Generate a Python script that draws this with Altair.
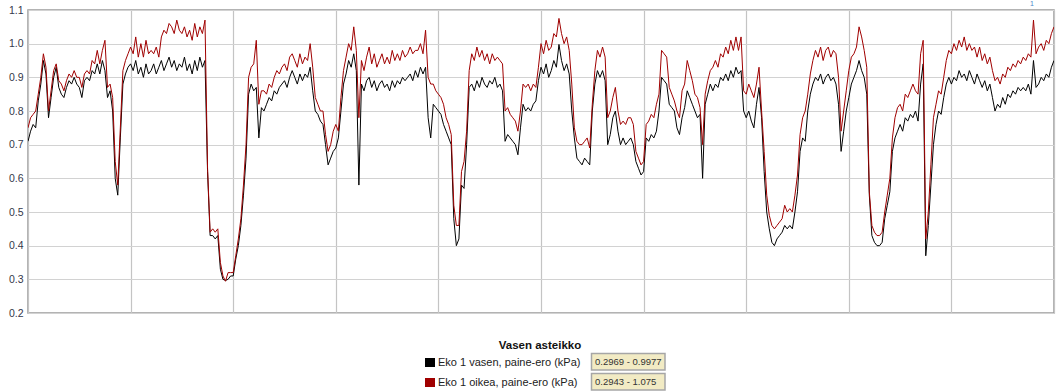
import altair as alt
import pandas as pd

# Pressure difference readings, one sample every 2.5 time units (0 ... 1000)
vasen = [
    0.71, 0.74, 0.76, 0.75, 0.83, 0.88, 0.95, 0.91, 0.78, 0.84, 0.90, 0.93,
    0.87, 0.85, 0.84, 0.87, 0.89, 0.88, 0.90, 0.88, 0.87, 0.84, 0.89, 0.90,
    0.89, 0.92, 0.91, 0.94, 0.91, 0.95, 0.92, 0.84, 0.86, 0.80, 0.60, 0.55,
    0.72, 0.88, 0.91, 0.93, 0.94, 0.92, 0.95, 0.91, 0.93, 0.90, 0.94, 0.91,
    0.92, 0.94, 0.91, 0.93, 0.95, 0.92, 0.94, 0.96, 0.93, 0.95, 0.92, 0.94,
    0.93, 0.96, 0.92, 0.94, 0.91, 0.95, 0.92, 0.96, 0.93, 0.95, 0.62, 0.43,
    0.43, 0.42, 0.43, 0.33, 0.30, 0.2969, 0.30, 0.31, 0.31, 0.36, 0.40, 0.46,
    0.55, 0.66, 0.85, 0.88, 0.86, 0.87, 0.72, 0.81, 0.80, 0.82, 0.84, 0.83,
    0.86, 0.85, 0.87, 0.88, 0.89, 0.87, 0.90, 0.92, 0.90, 0.88, 0.91, 0.89,
    0.91, 0.90, 0.93, 0.86, 0.80, 0.79, 0.77, 0.76, 0.70, 0.64, 0.66, 0.68,
    0.69, 0.72, 0.80, 0.88, 0.91, 0.95, 0.93, 0.97, 0.92, 0.58, 0.88, 0.86,
    0.89, 0.90, 0.87, 0.89, 0.86, 0.88, 0.89, 0.87, 0.88, 0.86, 0.89, 0.87,
    0.89, 0.88, 0.90, 0.89, 0.90, 0.91, 0.89, 0.92, 0.90, 0.93, 0.91, 0.93,
    0.78, 0.72, 0.82, 0.81, 0.80, 0.79, 0.76, 0.74, 0.72, 0.70, 0.48, 0.40,
    0.42, 0.58, 0.57, 0.70, 0.87, 0.88, 0.86, 0.89, 0.87, 0.90, 0.88, 0.87,
    0.89, 0.88, 0.90, 0.87, 0.88, 0.86, 0.71, 0.73, 0.72, 0.71, 0.70, 0.67,
    0.75, 0.82, 0.80, 0.81, 0.80, 0.82, 0.83, 0.89, 0.93, 0.91, 0.94, 0.90,
    0.92, 0.95, 0.93, 0.9977, 0.95, 0.92, 0.94, 0.91, 0.80, 0.72, 0.66, 0.65,
    0.64, 0.66, 0.65, 0.64, 0.80, 0.88, 0.92, 0.90, 0.92, 0.89, 0.70, 0.73,
    0.78, 0.80, 0.74, 0.70, 0.72, 0.70, 0.71, 0.72, 0.70, 0.65, 0.63, 0.61,
    0.62, 0.72, 0.71, 0.73, 0.72, 0.74, 0.80, 0.90, 0.89, 0.88, 0.82, 0.81,
    0.80, 0.75, 0.73, 0.78, 0.81, 0.86, 0.84, 0.82, 0.80, 0.78, 0.79, 0.60,
    0.82, 0.85, 0.88, 0.86, 0.88, 0.87, 0.90, 0.89, 0.91, 0.89, 0.92, 0.90,
    0.93, 0.91, 0.92, 0.80, 0.78, 0.80, 0.77, 0.75, 0.82, 0.87, 0.78, 0.62,
    0.50, 0.45, 0.41, 0.40, 0.42, 0.43, 0.44, 0.46, 0.45, 0.46, 0.45, 0.50,
    0.56, 0.68, 0.72, 0.71, 0.80, 0.85, 0.88, 0.90, 0.89, 0.91, 0.88, 0.90,
    0.91, 0.89, 0.90, 0.88, 0.82, 0.68, 0.74, 0.80, 0.84, 0.88, 0.90, 0.92,
    0.95, 0.92, 0.90, 0.85, 0.55, 0.43, 0.41, 0.40, 0.40, 0.41, 0.48, 0.52,
    0.56, 0.68, 0.72, 0.74, 0.76, 0.74, 0.78, 0.77, 0.79, 0.78, 0.80, 0.77,
    0.88, 0.94, 0.37, 0.46, 0.58, 0.70, 0.76, 0.80, 0.79, 0.84, 0.88, 0.90,
    0.88, 0.90, 0.89, 0.92, 0.90, 0.91, 0.89, 0.92, 0.90, 0.88, 0.91, 0.89,
    0.87, 0.89, 0.86, 0.88, 0.84, 0.80, 0.82, 0.81, 0.84, 0.82, 0.85, 0.84,
    0.86, 0.85, 0.87, 0.86, 0.87, 0.86, 0.88, 0.85, 0.95, 0.87, 0.88, 0.90,
    0.89, 0.91, 0.90, 0.93, 0.95,
]

oikea = [
    0.75, 0.78, 0.79, 0.80, 0.85, 0.90, 0.97, 0.93, 0.80, 0.86, 0.92, 0.94,
    0.89, 0.88, 0.86, 0.89, 0.91, 0.90, 0.92, 0.90, 0.90, 0.87, 0.91, 0.92,
    0.91, 0.95, 0.94, 0.98, 0.94, 0.98, 1.01, 0.87, 0.88, 0.84, 0.65, 0.58,
    0.75, 0.92, 0.95, 0.97, 0.99, 0.97, 1.02, 0.96, 1.00, 0.96, 1.01, 0.97,
    0.98, 0.97, 0.99, 0.96, 1.02, 1.04, 1.03, 1.06, 1.05, 1.03, 1.07, 1.04,
    1.03, 1.05, 1.02, 1.04, 1.01, 1.06, 1.02, 1.05, 1.03, 1.07, 0.63, 0.44,
    0.45, 0.44, 0.45, 0.35, 0.31, 0.2943, 0.32, 0.32, 0.32, 0.37, 0.42, 0.48,
    0.58, 0.70, 0.90, 0.93, 0.94, 1.01, 0.82, 0.86, 0.86, 0.85, 0.88, 0.87,
    0.90, 0.92, 0.91, 0.93, 0.94, 0.92, 0.96, 0.97, 0.95, 0.93, 0.97, 0.94,
    0.96, 0.95, 1.00, 0.93, 0.84, 0.82, 0.80, 0.80, 0.73, 0.68, 0.70, 0.74,
    0.76, 0.74, 0.84, 0.92, 0.96, 1.00, 0.98, 1.05, 0.98, 0.78, 0.95, 0.92,
    0.96, 0.99, 0.94, 0.97, 0.93, 0.95, 0.97, 0.94, 0.96, 0.94, 0.98, 0.95,
    0.97, 0.95, 0.98, 0.96, 0.97, 0.99, 0.97, 0.98, 0.98, 1.00, 0.97, 1.04,
    0.90, 0.88, 0.88, 0.86, 0.85, 0.84, 0.82, 0.78, 0.76, 0.73, 0.52, 0.46,
    0.46, 0.62, 0.65, 0.74, 0.92, 0.97, 0.95, 0.99, 0.96, 0.98, 0.95, 0.97,
    0.94, 0.97, 0.95, 0.96, 0.95, 0.94, 0.80, 0.81, 0.79, 0.78, 0.77, 0.74,
    0.80, 0.88, 0.87, 0.88, 0.86, 0.88, 0.87, 0.93, 1.00, 0.97, 1.01, 0.98,
    0.99, 1.03, 1.02, 1.075, 1.03, 1.00, 1.02, 0.98, 0.88, 0.75, 0.71, 0.70,
    0.70, 0.71, 0.72, 0.69, 0.82, 0.92, 0.98, 0.96, 0.99, 0.96, 0.78, 0.80,
    0.84, 0.87, 0.80, 0.76, 0.77, 0.76, 0.78, 0.78, 0.76, 0.68, 0.66, 0.64,
    0.65, 0.76, 0.77, 0.79, 0.78, 0.82, 0.85, 0.98, 0.97, 0.96, 0.87, 0.85,
    0.83, 0.80, 0.78, 0.86, 0.88, 0.95, 0.92, 0.89, 0.85, 0.84, 0.81, 0.70,
    0.85, 0.89, 0.92, 0.93, 0.95, 0.93, 0.97, 0.96, 0.99, 0.97, 1.01, 0.98,
    1.02, 0.98, 1.02, 0.86, 0.85, 0.88, 0.86, 0.84, 0.88, 0.93, 0.80, 0.68,
    0.55, 0.49, 0.46, 0.45, 0.46, 0.47, 0.48, 0.52, 0.50, 0.51, 0.50, 0.55,
    0.61, 0.73, 0.78, 0.80, 0.85, 0.91, 0.95, 0.98, 0.96, 0.99, 0.95, 0.98,
    0.99, 0.96, 0.98, 0.97, 0.90, 0.74, 0.80, 0.86, 0.92, 0.96, 0.97, 0.99,
    1.05, 1.02, 0.98, 0.93, 0.56, 0.46, 0.44, 0.43, 0.43, 0.44, 0.50, 0.55,
    0.60, 0.72, 0.78, 0.81, 0.82, 0.80, 0.85, 0.84, 0.86, 0.88, 0.86, 0.85,
    0.97, 1.01, 0.42, 0.50, 0.64, 0.78, 0.82, 0.86, 0.85, 0.90, 0.95, 0.98,
    0.97, 1.00, 0.98, 1.01, 0.99, 1.02, 0.98, 1.00, 0.98, 0.99, 0.96, 0.99,
    0.95, 0.97, 0.94, 0.96, 0.92, 0.89, 0.90, 0.88, 0.91, 0.90, 0.93, 0.92,
    0.94, 0.93, 0.95, 0.94, 0.96, 0.95, 0.97, 0.96, 1.07, 0.97, 0.99, 1.00,
    0.98, 1.01, 1.00, 1.03, 1.05,
]

STEP = 2.5
series_names = ["Eko 1 vasen, paine-ero (kPa)", "Eko 1 oikea, paine-ero (kPa)"]
series_values = [vasen, oikea]
series_colors = ["#000000", "#a00000"]
legend_title = "Vasen asteikko"
y_ticks = [0.2, 0.3, 0.4, 0.5, 0.6, 0.7, 0.8, 0.9, 1.0, 1.1]
x_grid = [0, 100, 200, 300, 400, 500, 600, 700, 800, 900, 1000]

FONT = "Liberation Sans"

x_enc = alt.X(
    "t:Q",
    scale=alt.Scale(domain=[0, 1000], nice=False, zero=False),
    axis=alt.Axis(values=x_grid, labels=False, ticks=False, title=None,
                  domain=False, grid=True, gridColor="#c4c4c4", gridWidth=1.2),
)
y_enc = alt.Y(
    "arvo:Q",
    scale=alt.Scale(domain=[0.2, 1.1], nice=False, zero=False),
    axis=alt.Axis(values=y_ticks, format=".1f", title=None, ticks=False,
                  domain=False, labelPadding=5, labelFontSize=10.5,
                  labelFont=FONT, labelColor="#34384a",
                  grid=True, gridColor="#d2d2d2", gridWidth=1.2),
)

layers = []
for name, vals, color in zip(series_names, series_values, series_colors):
    frame = pd.DataFrame({"t": [i * STEP for i in range(len(vals))], "arvo": vals})
    layers.append(
        alt.Chart(frame).mark_line(color=color, strokeWidth=1, clip=True)
        .encode(x=x_enc, y=y_enc)
    )

# Legend below the plot: title, colour swatch, series name and value range box
title_df = pd.DataFrame({"txt": [legend_title]})
layers.append(
    alt.Chart(title_df).mark_text(font=FONT, fontSize=11.5, fontWeight="bold",
                                  color="#111111", align="center", baseline="middle")
    .encode(x=alt.value(512), y=alt.value(336), text="txt:N")
)

for i, (name, vals, color) in enumerate(zip(series_names, series_values, series_colors)):
    dy = i * 20
    rng = f"{min(vals):.4g} - {max(vals):.4g}"
    row = pd.DataFrame({"name": [name], "rng": [rng]})
    base = alt.Chart(row)
    layers.append(
        base.mark_rect(color=color)
        .encode(x=alt.value(397), x2=alt.value(407),
                y=alt.value(348 + dy), y2=alt.value(357 + dy))
    )
    layers.append(
        base.mark_text(font=FONT, fontSize=11, color="#222222",
                       align="left", baseline="middle")
        .encode(x=alt.value(410), y=alt.value(353 + dy), text="name:N")
    )
    layers.append(
        base.mark_rect(fill="#f2ebc4", stroke="#a6a6a6", strokeWidth=1.5)
        .encode(x=alt.value(563.5), x2=alt.value(637),
                y=alt.value(343.5 + dy), y2=alt.value(360 + dy))
    )
    layers.append(
        base.mark_text(font=FONT, fontSize=9.5, color="#333333",
                       align="left", baseline="middle")
        .encode(x=alt.value(567), y=alt.value(352 + dy), text="rng:N")
    )

# Event marker above the top edge
marker_df = pd.DataFrame({"m": ["1"]})
layers.append(
    alt.Chart(marker_df).mark_text(font=FONT, fontSize=7, color="#4a86c8",
                                   align="center", baseline="bottom")
    .encode(x=alt.value(1004), y=alt.value(-3), text="m:N")
)

chart = (
    alt.layer(*layers)
    .properties(
        width=1026,
        height=303,
        autosize=alt.AutoSizeParams(type="none"),
        padding={"left": 28, "top": 10, "right": 7, "bottom": 78},
        background="white",
    )
    .configure_view(stroke="#9a9a9a", strokeWidth=1.5)
)

chart.save("out.html", embed_options={"renderer": "svg", "actions": False})
